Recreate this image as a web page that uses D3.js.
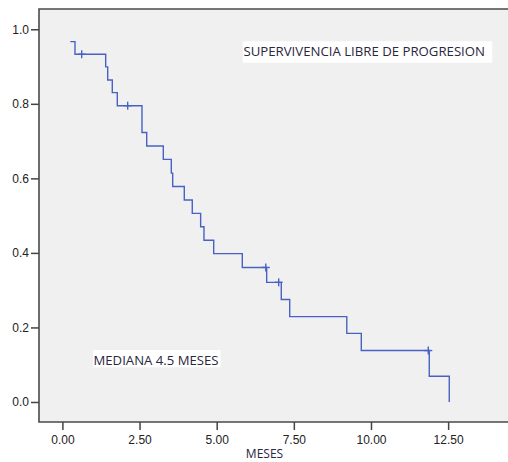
<!DOCTYPE html>
<html>
<head>
<meta charset="utf-8">
<script src="https://cdn.jsdelivr.net/npm/d3@7/dist/d3.min.js"></script>
<style>
  html, body { margin: 0; padding: 0; background: #ffffff; }
  svg { display: block; }
</style>
</head>
<body>
<script>
// ---- data ----
const eventTimes = [0.256, 0.408, 1.403, 1.468, 1.617, 1.779, 2.579, 2.732, 3.27, 3.529, 3.574, 3.95, 4.209, 4.48, 4.588, 4.903, 5.83, 6.62, 7.093, 7.366, 9.216, 9.686, 11.889, 12.537];
const survival   = [0.967, 0.933, 0.899, 0.864, 0.830, 0.795, 0.723, 0.687, 0.651, 0.614, 0.578, 0.542, 0.506, 0.470, 0.434, 0.398, 0.361, 0.321, 0.275, 0.229, 0.184, 0.138, 0.069, 0.0];
const censorTimes = [0.625, 2.116, 6.591, 7.009, 11.857];
const censorSurv  = [0.933, 0.795, 0.361, 0.321, 0.138];
const xTicks = [0, 2.5, 5, 7.5, 10, 12.5];
const xTickLabels = ["0.00", "2.50", "5.00", "7.50", "10.00", "12.50"];
const yTicks = [0, 0.2, 0.4, 0.6, 0.8, 1.0];
const yTickLabels = ["0.0", "0.2", "0.4", "0.6", "0.8", "1.0"];
const xTitle = "MESES";
const note1 = "SUPERVIVENCIA LIBRE DE PROGRESION";
const note2 = "MEDIANA 4.5 MESES";

(function () {
const W = 508, H = 462;
const pL = 39, pT = 9, pR = 508, pB = 422;

const svg = d3.select("body").append("svg").attr("width", W).attr("height", H);

const x = d3.scaleLinear().domain([-0.758, 14.44]).range([pL, pR]);
const y = d3.scaleLinear().domain([-0.0537, 1.0544]).range([pB, pT]);

// plot background
svg.append("rect").attr("x", pL).attr("y", pT)
  .attr("width", pR - pL).attr("height", pB - pT)
  .attr("fill", "#f0f0f0");

// axes
const xAxis = d3.axisBottom(x).tickValues(xTicks)
  .tickFormat((d, i) => xTickLabels[i]).tickSize(8).tickSizeOuter(0).tickPadding(5);
const yAxis = d3.axisLeft(y).tickValues(yTicks)
  .tickFormat((d, i) => yTickLabels[i]).tickSize(8).tickSizeOuter(0).tickPadding(2);

const gx = svg.append("g").attr("transform", `translate(0,${pB})`).call(xAxis);
const gy = svg.append("g").attr("transform", `translate(${pL},0)`).call(yAxis);
[gx, gy].forEach(g => {
  g.select(".domain").remove();
  g.selectAll(".tick line").attr("stroke", "#444").attr("stroke-width", 1.5);
  g.selectAll(".tick text").attr("fill", "#222")
    .style("font-family", "'Liberation Sans', Arial, sans-serif").style("font-size", "12px");
});

// frame (left, top, bottom)
svg.append("path")
  .attr("d", `M${pR},${pT}H${pL}V${pB}H${pR}`)
  .attr("fill", "none").attr("stroke", "#4a4a4a").attr("stroke-width", 1.6);

// KM step curve
const pts = eventTimes.map((t, i) => [t, survival[i]]);
const line = d3.line().x(d => x(d[0])).y(d => y(d[1])).curve(d3.curveStepAfter);
svg.append("path").datum(pts).attr("d", line)
  .attr("fill", "none").attr("stroke", "#4862c4").attr("stroke-width", 1.4);

// censor marks
const cg = svg.append("g").attr("stroke", "#4862c4").attr("stroke-width", 1.4);
censorTimes.forEach((t, i) => {
  const cx = x(t), cy = y(censorSurv[i]);
  cg.append("line").attr("x1", cx).attr("x2", cx).attr("y1", cy - 4).attr("y2", cy + 4);
  cg.append("line").attr("x1", cx - 4).attr("x2", cx + 4).attr("y1", cy).attr("y2", cy);
});

// text notes with white boxes
function note(txt, x0, y0, w, h, tx, ty, tw) {
  svg.append("rect").attr("x", x0).attr("y", y0).attr("width", w).attr("height", h).attr("fill", "#ffffff");
  svg.append("text").attr("x", tx).attr("y", ty).text(txt)
    .attr("fill", "#2a2540")
    .attr("textLength", tw).attr("lengthAdjust", "spacingAndGlyphs")
    .style("font-family", "'Open Sans', sans-serif").style("font-size", "13px");
}
note(note1, 242.7, 41.3, 249.6, 21.4, 243.5, 56.2, 241.5);
note(note2, 93, 350, 127.5, 17.3, 93.5, 364.6, 125);

// x axis title
svg.append("text").attr("x", 264.5).attr("y", 458.3).attr("text-anchor", "middle")
  .text(xTitle).attr("fill", "#2a2540")
  .style("font-family", "'Open Sans', sans-serif").style("font-size", "12px");
})();
</script>
</body>
</html>
